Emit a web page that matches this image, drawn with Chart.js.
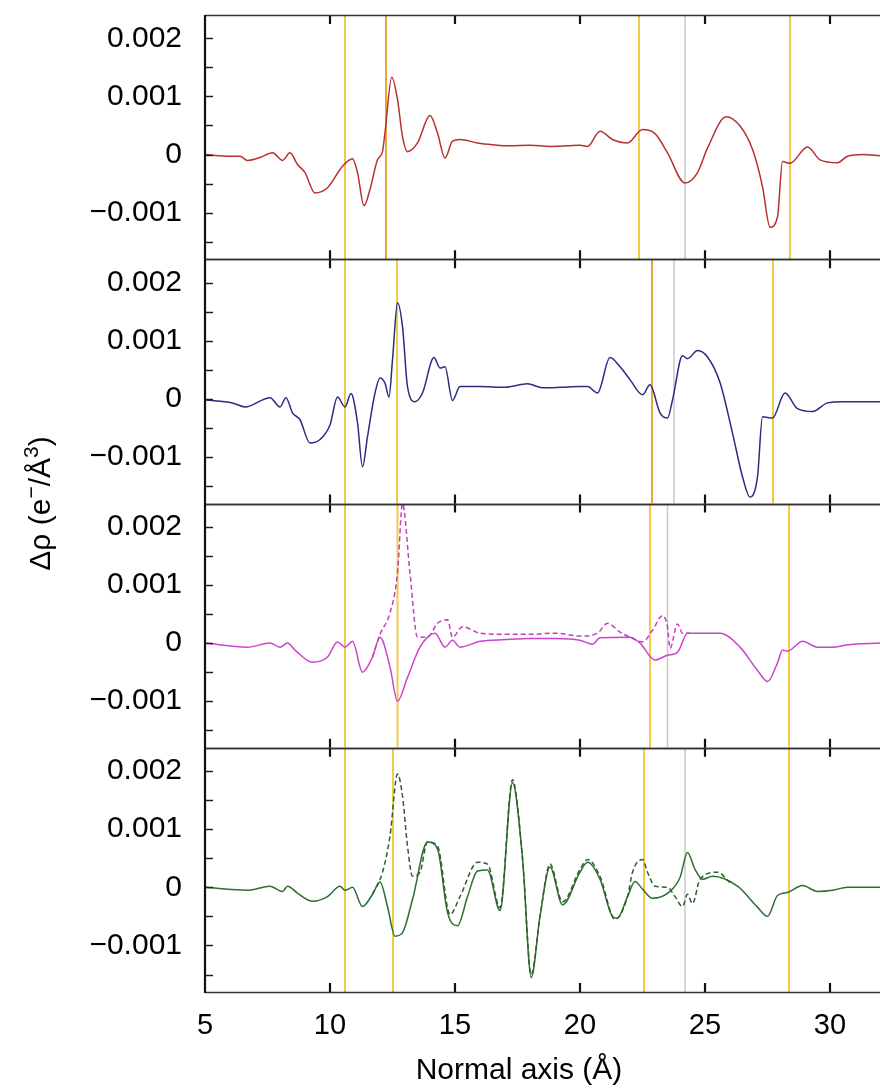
<!DOCTYPE html>
<html>
<head>
<meta charset="utf-8">
<script src="https://cdn.jsdelivr.net/npm/chart.js@4.4.1/dist/chart.umd.min.js"></script>
<style>
  html, body { margin: 0; padding: 0; background: #fff; overflow: hidden; }
  canvas { display: block; }
</style>
</head>
<body>
<canvas id="grafico" width="880" height="1091"></canvas>
<script>
// Eixos
const xTicks = [5, 10, 15, 20, 25, 30];
const yTickValues = [-0.001, 0, 0.001, 0.002];
const yTickLabels = ['\u22120.001', '0', '0.001', '0.002'];
const yMinorTicks = [-0.0015, -0.001, -0.0005, 0, 0.0005, 0.001, 0.0015, 0.002];

// Valores em 10^-3 e-/Å^3
// Painel 1 (vermelho)
const p1X = [5.0, 6.0, 6.4, 6.7, 7.2, 7.7, 8.1, 8.4, 8.7, 9.0, 9.4, 9.9, 10.5, 10.9, 11.1, 11.36, 11.6, 11.9, 12.1, 12.2, 12.47, 12.7, 12.9, 13.1, 13.5, 14.0, 14.3, 14.6, 14.9, 15.2, 15.9, 16.5, 17.2, 18.0, 18.8, 19.5, 20.0, 20.3, 20.8, 21.3, 21.9, 22.5, 23.0, 23.5, 24.2, 24.7, 25.1, 25.85, 26.4, 26.9, 27.3, 27.6, 27.9, 28.1, 28.4, 29.1, 29.6, 30.3, 30.7, 31.3, 32];
const p1Y = [0, -0.03, -0.03, -0.1, -0.05, 0.03, -0.1, 0.03, -0.17, -0.31, -0.66, -0.57, -0.2, -0.07, -0.31, -0.88, -0.6, -0.09, 0.05, 0.38, 1.33, 0.95, 0.31, 0.05, 0.2, 0.67, 0.37, -0.06, 0.23, 0.26, 0.2, 0.17, 0.15, 0.16, 0.14, 0.15, 0.16, 0.14, 0.40, 0.26, 0.2, 0.43, 0.36, 0.03, -0.49, -0.31, 0.11, 0.65, 0.49, 0.09, -0.55, -1.25, -1.07, -0.12, -0.15, 0.13, -0.09, -0.14, -0.03, 0, -0.02];

// Painel 2 (azul)
const p2X = [5.0, 6.1, 6.6, 7.6, 8.0, 8.24, 8.5, 8.8, 9.2, 9.6, 10.0, 10.3, 10.6, 10.84, 11.1, 11.3, 11.5, 11.8, 12.0, 12.2, 12.36, 12.5, 12.7, 12.9, 13.1, 13.4, 13.7, 14.16, 14.4, 14.6, 14.9, 15.2, 16.0, 17.0, 17.9, 18.5, 19.3, 20.0, 20.3, 20.7, 21.2, 21.6, 22.0, 22.5, 22.8, 23.2, 23.5, 23.7, 24.1, 24.3, 24.7, 25.1, 25.6, 26.1, 26.5, 26.8, 27.1, 27.3, 27.7, 28.2, 28.7, 29.3, 29.9, 30.5, 32];
const p2Y = [-0.02, -0.07, -0.14, 0.02, -0.14, 0.02, -0.24, -0.36, -0.76, -0.7, -0.45, 0.03, -0.14, 0.09, -0.41, -1.17, -0.65, 0.1, 0.36, 0.27, 0.03, 0.67, 1.65, 1.24, 0.21, -0.05, 0.1, 0.71, 0.53, 0.55, -0.03, 0.21, 0.21, 0.2, 0.26, 0.19, 0.2, 0.21, 0.21, 0.1, 0.71, 0.55, 0.33, 0.07, 0.24, -0.24, -0.33, -0.02, 0.74, 0.69, 0.83, 0.72, 0.28, -0.59, -1.34, -1.69, -1.34, -0.31, -0.33, 0.1, -0.17, -0.22, -0.07, -0.05, -0.05];

// Painel 3 (magenta) - contínua e tracejada
const p3X = [5.0, 6.7, 7.6, 8.0, 8.3, 8.6, 9.3, 9.9, 10.3, 10.6, 10.9, 11.3, 11.7, 12.0, 12.4, 12.7, 13.1, 13.6, 14.2, 14.6, 14.9, 15.2, 16.0, 17.0, 18.0, 19.0, 20.0, 20.5, 20.8, 22.0, 22.4, 23.0, 23.5, 23.9, 24.3, 25.6, 26.4, 27.1, 27.5, 27.9, 28.1, 28.3, 28.9, 29.5, 30.1, 30.7, 32];
const p3Y = [0, -0.07, 0, -0.07, 0, -0.12, -0.33, -0.24, 0.02, -0.07, 0.03, -0.5, -0.24, 0.1, -0.41, -1.0, -0.59, -0.07, 0.17, -0.07, 0.05, -0.07, 0.03, 0.06, 0.08, 0.08, 0.05, -0.02, 0.09, 0.1, 0, -0.29, -0.21, -0.16, 0.17, 0.17, -0.07, -0.47, -0.66, -0.34, -0.12, -0.14, 0.03, -0.07, -0.07, -0.03, 0];
const p3dX = [11.7, 12.0, 12.4, 12.7, 12.9, 13.2, 13.5, 13.9, 14.3, 14.7, 14.9, 15.3, 16.0, 17.0, 18.0, 19.0, 20.0, 20.7, 21.1, 21.6, 22.0, 22.5, 22.9, 23.3, 23.5, 23.6, 23.9, 24.1, 24.4];
const p3dY = [-0.24, 0.15, 0.52, 1.2, 2.4, 1.2, 0.1, 0.1, 0.34, 0.4, 0.1, 0.28, 0.17, 0.15, 0.15, 0.17, 0.12, 0.17, 0.34, 0.19, 0.1, 0.02, 0.22, 0.47, 0.28, -0.09, 0.33, 0.17, 0.17];

// Painel 4 (verde) - contínua e tracejada
const p4X = [5.0, 6.7, 7.6, 8.1, 8.3, 8.7, 9.3, 9.9, 10.4, 10.6, 10.9, 11.3, 11.7, 12.0, 12.3, 12.6, 12.9, 13.3, 13.9, 14.3, 14.7, 15.1, 15.5, 15.9, 16.3, 16.8, 17.3, 17.7, 18.05, 18.4, 18.8, 19.3, 20.0, 20.3, 20.8, 21.3, 21.5, 21.9, 22.2, 22.5, 22.9, 23.6, 24.0, 24.3, 24.6, 24.9, 25.3, 26.3, 27.1, 27.5, 27.9, 28.3, 28.9, 29.5, 30.1, 30.7, 32];
const p4Y = [0, -0.05, 0.02, -0.07, 0.02, -0.1, -0.24, -0.16, 0.02, -0.05, 0, -0.33, -0.12, 0.09, -0.33, -0.84, -0.78, -0.21, 0.78, 0.66, -0.43, -0.66, -0.16, 0.28, 0.3, -0.4, 1.8, 0.5, -1.55, -0.5, 0.35, -0.3, 0.26, 0.43, 0.14, -0.5, -0.53, -0.16, 0.1, -0.03, -0.19, -0.07, 0.17, 0.6, 0.31, 0.14, 0.19, 0.02, -0.34, -0.5, -0.14, -0.09, 0.03, -0.07, -0.05, 0, 0];
const p4dX = [11.7, 12.1, 12.4, 12.7, 12.9, 13.1, 13.3, 13.6, 13.9, 14.3, 14.8, 15.2, 15.9, 16.3, 16.8, 17.3, 17.7, 18.05, 18.4, 18.8, 19.3, 20.0, 20.3, 20.8, 21.4, 21.9, 22.1, 22.5, 22.7, 23.0, 23.5, 23.8, 24.1, 24.3, 24.5, 24.8, 25.5, 26.0];
const p4dY = [-0.12, 0.26, 0.88, 1.95, 1.57, 0.71, 0.19, 0.26, 0.78, 0.71, -0.47, -0.16, 0.43, 0.4, -0.35, 1.85, 0.5, -1.5, -0.5, 0.4, -0.25, 0.31, 0.48, 0.19, -0.55, -0.16, 0.26, 0.48, 0.26, 0.02, 0, -0.16, -0.33, -0.12, -0.28, 0.14, 0.26, 0.08];

// Linhas verticais de referência (Å)
const p1Amarelo = [10.6, 22.36, 28.4], p1Laranja = [12.24], p1Cinza = [24.2];
const p2Amarelo = [10.6, 12.68, 27.72], p2Laranja = [22.88], p2Cinza = [23.76];
const p3Amarelo = [10.6, 12.7, 22.8, 28.36], p3Laranja = [], p3Cinza = [23.5];
const p4Amarelo = [10.6, 12.52, 22.56, 28.36], p4Laranja = [], p4Cinza = [24.2];

const Y_MIN = -0.0018, Y_MAX = 0.0024;
const FONTE = "'Liberation Sans', Arial, Helvetica, sans-serif";

function pontos(xs, ys) {
    return xs.map((x, i) => ({ x: x, y: ys[i] / 1000 }));
}

function curva(xs, ys, eixo, cor, tracejada) {
    return {
        data: pontos(xs, ys),
        yAxisID: eixo,
        borderColor: cor,
        borderWidth: 1.5,
        borderDash: tracejada ? [5, 3] : [],
        pointRadius: 0,
        cubicInterpolationMode: 'monotone',
        order: 1
    };
}

function linhasVerticais(posicoes, eixo, cor, largura) {
    return posicoes.map(x => ({
        data: [{ x: x, y: Y_MIN }, { x: x, y: Y_MAX }],
        yAxisID: eixo,
        borderColor: cor,
        borderWidth: largura,
        pointRadius: 0,
        order: 2
    }));
}

const AMARELO = '#f1ca48', LARANJA = '#e6a83c', CINZA = '#c9c9c9';

const datasets = [
    ...linhasVerticais(p1Amarelo, 'y1', AMARELO, 2), ...linhasVerticais(p1Laranja, 'y1', LARANJA, 2), ...linhasVerticais(p1Cinza, 'y1', CINZA, 1.5),
    ...linhasVerticais(p2Amarelo, 'y2', AMARELO, 2), ...linhasVerticais(p2Laranja, 'y2', LARANJA, 2), ...linhasVerticais(p2Cinza, 'y2', CINZA, 1.5),
    ...linhasVerticais(p3Amarelo, 'y3', AMARELO, 2), ...linhasVerticais(p3Laranja, 'y3', LARANJA, 2), ...linhasVerticais(p3Cinza, 'y3', CINZA, 1.5),
    ...linhasVerticais(p4Amarelo, 'y4', AMARELO, 2), ...linhasVerticais(p4Laranja, 'y4', LARANJA, 2), ...linhasVerticais(p4Cinza, 'y4', CINZA, 1.5),
    curva(p1X, p1Y, 'y1', '#b83030', false),
    curva(p2X, p2Y, 'y2', '#2c2c80', false),
    curva(p3dX, p3dY, 'y3', '#c23fc2', true),
    curva(p3X, p3Y, 'y3', '#cc44cc', false),
    curva(p4dX, p4dY, 'y4', '#2f5f2f', true),
    curva(p4X, p4Y, 'y4', '#2f6e2f', false)
];

function eixoY(peso) {
    return {
        type: 'linear',
        position: 'left',
        stack: 'paineis',
        stackWeight: 1,
        weight: peso,
        min: Y_MIN,
        max: Y_MAX,
        grid: { display: false, drawTicks: false },
        border: { display: false },
        afterBuildTicks: (scale) => { scale.ticks = yTickValues.map(v => ({ value: v })); },
        afterFit: (scale) => { scale.width = 205; scale.paddingTop = 0; scale.paddingBottom = 0; },
        ticks: {
            color: '#000',
            padding: 23,
            font: { family: FONTE, size: 30 },
            callback: (v) => {
                const i = yTickValues.findIndex(t => Math.abs(t - v) < 1e-9);
                return i >= 0 ? yTickLabels[i] : '';
            }
        }
    };
}

// Moldura dos painéis e marcas de escala (para dentro)
const molduraPlugin = {
    id: 'moldura',
    afterDatasetsDraw(chart) {
        const ctx = chart.ctx;
        const area = chart.chartArea;
        const sx = chart.scales.x;
        ctx.save();
        ['y1', 'y2', 'y3', 'y4'].forEach(id => {
            const s = chart.scales[id];
            ctx.strokeStyle = '#222';
            ctx.lineWidth = 1.5;
            yMinorTicks.forEach(v => {
                const py = Math.round(s.getPixelForValue(v)) + 0.5;
                ctx.beginPath(); ctx.moveTo(area.left, py); ctx.lineTo(area.left + 8, py); ctx.stroke();
            });
            ctx.lineWidth = 2.2;
            ctx.strokeStyle = '#111';
            xTicks.slice(1).forEach(v => {
                const px = Math.round(sx.getPixelForValue(v));
                ctx.beginPath(); ctx.moveTo(px, s.top); ctx.lineTo(px, s.top + 9); ctx.stroke();
                ctx.beginPath(); ctx.moveTo(px, s.bottom); ctx.lineTo(px, s.bottom - 9); ctx.stroke();
            });
            ctx.lineWidth = 1.6;
            ctx.strokeStyle = '#333';
            ctx.beginPath();
            ctx.moveTo(area.left, Math.round(s.top) + 0.5); ctx.lineTo(area.right + 5, Math.round(s.top) + 0.5);
            ctx.moveTo(area.left, Math.round(s.bottom) + 0.5); ctx.lineTo(area.right + 5, Math.round(s.bottom) + 0.5);
            ctx.stroke();
        });
        ctx.lineWidth = 2.2;
        ctx.strokeStyle = '#111';
        ctx.beginPath(); ctx.moveTo(area.left, area.top); ctx.lineTo(area.left, area.bottom + 1); ctx.stroke();
        ctx.restore();
    }
};

// Títulos dos eixos (com expoentes)
const tituloY = [
    { texto: 'Δρ (e', sup: false },
    { texto: '\u2212', sup: true },
    { texto: '/Å', sup: false },
    { texto: '3', sup: true },
    { texto: ')', sup: false }
];

const titulosPlugin = {
    id: 'titulos',
    afterDraw(chart) {
        const ctx = chart.ctx;
        const area = chart.chartArea;
        const fonteBase = '30px ' + FONTE, fonteSup = '21px ' + FONTE;
        ctx.save();
        ctx.fillStyle = '#000';
        ctx.font = fonteBase;
        ctx.textAlign = 'center';
        ctx.textBaseline = 'middle';
        ctx.fillText('Normal axis (Å)', 519, 1071);

        ctx.translate(40, (area.top + area.bottom) / 2);
        ctx.rotate(-Math.PI / 2);
        ctx.textAlign = 'left';
        ctx.textBaseline = 'alphabetic';
        let total = 0;
        tituloY.forEach(p => { ctx.font = p.sup ? fonteSup : fonteBase; total += ctx.measureText(p.texto).width; });
        let pos = -total / 2;
        tituloY.forEach(p => {
            ctx.font = p.sup ? fonteSup : fonteBase;
            ctx.fillText(p.texto, pos, p.sup ? -2 : 10);
            pos += ctx.measureText(p.texto).width;
        });
        ctx.restore();
    }
};

new Chart(document.getElementById('grafico'), {
    type: 'line',
    data: { datasets: datasets },
    options: {
        responsive: false,
        animation: false,
        layout: { padding: { top: 15, left: 0, right: 0, bottom: 0 } },
        plugins: { legend: { display: false }, tooltip: { enabled: false } },
        scales: {
            x: {
                type: 'linear',
                min: 5,
                max: 32,
                grid: { display: false, drawTicks: false },
                border: { display: false },
                afterBuildTicks: (scale) => { scale.ticks = xTicks.map(v => ({ value: v })); },
                afterFit: (scale) => { scale.height = 99; scale.paddingRight = 0; },
                ticks: { color: '#000', padding: 17, maxRotation: 0, font: { family: FONTE, size: 29 } }
            },
            y1: eixoY(4),
            y2: eixoY(3),
            y3: eixoY(2),
            y4: eixoY(1)
        }
    },
    plugins: [molduraPlugin, titulosPlugin]
});
</script>
</body>
</html>
